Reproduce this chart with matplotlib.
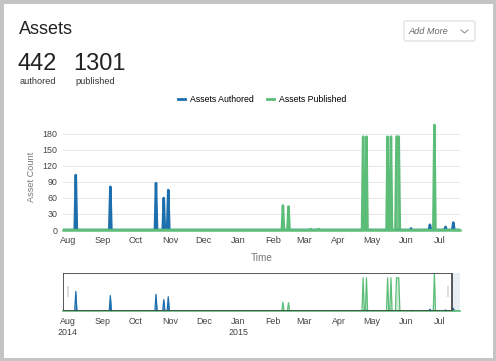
import numpy as np
import pandas as pd
import matplotlib
matplotlib.use('Agg')
import matplotlib.pyplot as plt
import matplotlib.dates as mdates
from matplotlib.patches import Rectangle, FancyBboxPatch

plt.rcParams['font.family'] = ['Liberation Sans', 'DejaVu Sans']

# Datos
authored_total = 442
published_total = 1301

authored_dates = ['2014-08-08', '2014-09-08', '2014-10-19', '2014-10-26', '2014-10-30',
                  '2015-04-26', '2015-06-05', '2015-06-22', '2015-07-06', '2015-07-13']
authored_counts = [103, 81, 88, 60, 75, 4, 3, 10, 6, 14]

published_dates = ['2015-02-10', '2015-02-15', '2015-03-07', '2015-03-14',
                   '2015-04-23', '2015-04-26', '2015-05-15', '2015-05-18',
                   '2015-05-23', '2015-05-24', '2015-05-25', '2015-06-26']
published_counts = [46, 44, 2, 2, 175, 175, 175, 175, 175, 175, 175, 197]

month_ticks = pd.date_range('2014-08-01', '2015-07-01', freq='MS')
month_labels = ['Aug', 'Sep', 'Oct', 'Nov', 'Dec', 'Jan', 'Feb', 'Mar', 'Apr', 'May', 'Jun', 'Jul']
nav_labels = ['Aug\n2014', 'Sep', 'Oct', 'Nov', 'Dec', 'Jan\n2015', 'Feb', 'Mar', 'Apr', 'May', 'Jun', 'Jul']
y_ticks = [0, 30, 60, 90, 120, 150, 180]

# Serie diaria con ceros
days = pd.date_range('2014-07-26', '2015-07-21', freq='D')
authored = pd.Series(0.0, index=days)
published = pd.Series(0.0, index=days)
authored[pd.to_datetime(authored_dates)] = authored_counts
published[pd.to_datetime(published_dates)] = published_counts

BLUE = '#1c6ead'
BLUE_FILL = '#2f7dbd'
GREEN = '#5cbd79'
GREEN_FILL = '#78c98f'

W, H = 496, 361
fig = plt.figure(figsize=(W / 100, H / 100), dpi=100)


def fx(x):
    return x / W


def fy(y):
    return 1 - y / H


# Marco exterior
fig.patches.append(Rectangle((0, 0), 1, 1, transform=fig.transFigure, fill=False,
                             edgecolor='#c4c4c4', linewidth=5))

# Encabezado
fig.text(fx(19), fy(30), 'Assets', fontsize=13, color='#222222', va='center')
fig.text(fx(18), fy(64), str(authored_total), fontsize=17, color='#222222', va='center')
fig.text(fx(73), fy(64), str(published_total), fontsize=17, color='#222222', va='center')
fig.text(fx(20), fy(81), 'authored', fontsize=6.6, color='#333333', va='center')
fig.text(fx(75), fy(81), 'published', fontsize=6.6, color='#333333', va='center')

# Botón "Add More"
fig.patches.append(FancyBboxPatch((fx(404), fy(41)), fx(71), 20 / H, transform=fig.transFigure,
                                  boxstyle='round,pad=0,rounding_size=0.004',
                                  facecolor='white', edgecolor='#dcdcdc', linewidth=0.8))
fig.text(fx(408), fy(31), 'Add More', fontsize=6.6, style='italic', color='#666666', va='center')
fig.lines.append(plt.Line2D([fx(461), fx(464.5), fx(468)], [fy(30), fy(33), fy(30)],
                            transform=fig.transFigure, color='#888888', linewidth=0.7))

# Rango de fechas en el eje x
xmin = mdates.date2num(pd.Timestamp('2014-07-27 12:00'))
xmax = mdates.date2num(pd.Timestamp('2015-07-19'))
xd = mdates.date2num(days)

# Gráfico principal
ax = fig.add_axes([fx(63), fy(230), fx(460 - 63), 106.7 / H])
ax.fill_between(xd, authored.values, color=BLUE_FILL, linewidth=0)
ax.plot(xd, authored.values, color=BLUE, linewidth=1.8)
ax.fill_between(xd, published.values, color=GREEN_FILL, linewidth=0)
ax.plot(xd, published.values, color=GREEN, linewidth=1.8)
ax.plot([xmin, xmax], [0, 0], color=GREEN, linewidth=1.8, clip_on=False, zorder=3)
ax.set_xlim(xmin, xmax)
ax.set_ylim(0, 200)
ax.set_yticks(y_ticks)
ax.set_yticklabels([str(v) for v in y_ticks], fontsize=6.4, color='#444444')
ax.set_xticks(mdates.date2num(month_ticks))
ax.set_xticklabels(month_labels, fontsize=6.6, color='#444444')
ax.tick_params(length=0, pad=4)
ax.grid(axis='y', color='#e6e6e6', linewidth=0.7)
ax.set_axisbelow(True)
for s in ax.spines.values():
    s.set_visible(False)
ax.set_ylabel('Asset Count', fontsize=6.6, color='#777777', labelpad=5)
ax.set_xlabel('Time', fontsize=7.2, color='#777777', labelpad=6)

# Leyenda
h1 = plt.Line2D([], [], color=BLUE, linewidth=2)
h2 = plt.Line2D([], [], color=GREEN, linewidth=2)
fig.legend([h1, h2], ['Assets Authored', 'Assets Published'], loc='center',
           bbox_to_anchor=(fx(262), fy(100)), ncol=2, frameon=False, fontsize=6.3,
           handlelength=0.8, handletextpad=0.6, columnspacing=1.5)

# Navegador
nav = fig.add_axes([fx(63), fy(311), fx(460 - 63), 38 / H])
nav.fill_between(xd, authored.values, color=BLUE_FILL, linewidth=0)
nav.plot(xd, authored.values, color=BLUE, linewidth=0.9)
nav.fill_between(xd, published.values, color=GREEN_FILL, alpha=0.35, linewidth=0)
nav.plot(xd, published.values, color=GREEN, linewidth=0.9)
nav.set_xlim(xmin, xmax)
nav.set_ylim(0, 200)
nav.set_yticks([])
nav.set_xticks(mdates.date2num(month_ticks))
nav.set_xticklabels(nav_labels, fontsize=6.4, color='#444444', linespacing=1.3, va='top')
nav.tick_params(length=0, pad=4)
for s in nav.spines.values():
    s.set_visible(False)
# zona no seleccionada y caja de selección
nav.plot([xmin, xmax], [0, 0], color=GREEN, linewidth=1.2, zorder=4, clip_on=False)
nav.axvspan(mdates.date2num(pd.Timestamp('2015-07-12')), xmax, color='#e9eef4', zorder=0)
nav.add_patch(Rectangle((0, 0), (452 - 63) / (460 - 63), 1, transform=nav.transAxes,
                        fill=False, edgecolor='#4a4a4a', linewidth=1.3, zorder=5))
nav.add_patch(Rectangle((4 / 397, 0.37), 2 / 397, 0.28, transform=nav.transAxes,
                        facecolor='#dddddd', edgecolor='none', zorder=6))
nav.add_patch(Rectangle((384 / 397, 0.37), 2 / 397, 0.28, transform=nav.transAxes,
                        facecolor='#dddddd', edgecolor='none', zorder=6))

fig.savefig('out.png', dpi=100)
